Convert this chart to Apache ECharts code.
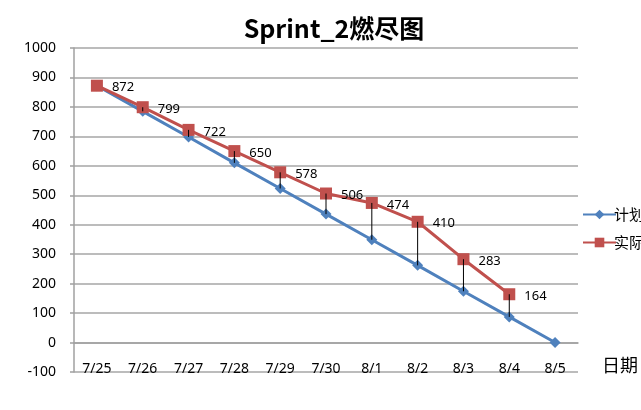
<!DOCTYPE html>
<html>
<head>
<meta charset="utf-8">
<script src="https://cdn.jsdelivr.net/npm/echarts@6/dist/echarts.min.js"></script>
<style>
html,body{margin:0;padding:0;background:#fff;}
#main{width:641px;height:410px;}
</style>
</head>
<body>
<div id="main"></div>
<script>
const categories = ['7/25','7/26','7/27','7/28','7/29','7/30','8/1','8/2','8/3','8/4','8/5'];
const planValues = [872, 785, 698, 610, 523, 436, 349, 262, 174, 87, 0];
const actualValues = [872, 799, 722, 650, 578, 506, 474, 410, 283, 164];
const yTicks = { min: -100, max: 1000, interval: 100 };

const dropData = [];
for (let i = 0; i < actualValues.length; i++) {
  dropData.push([i, planValues[i], actualValues[i]]);
}

const chart = echarts.init(document.getElementById('main'));
const font = 'Noto Sans';
chart.setOption({
  animation: false,
  backgroundColor: '#fff',
  textStyle: { fontFamily: font },
  title: {
    text: 'Sprint_2燃尽图',
    left: 329, top: 11, textAlign: 'center',
    textStyle: { fontFamily: 'Noto Sans CJK SC', fontWeight: 'bold', fontSize: 25, color: '#000' }
  },
  grid: { left: 74, right: 63, top: 48, bottom: 38 },
  legend: {
    orient: 'vertical', left: 577, top: 202, itemGap: 13,
    itemWidth: 33, itemHeight: 12,
    textStyle: { fontFamily: 'Noto Sans CJK SC', fontSize: 15, color: '#000', padding: [0,0,0,-7] },
    data: ['计划', '实际']
  },
  xAxis: {
    type: 'category', data: categories, boundaryGap: true,
    name: '日期', nameLocation: 'end', nameGap: 24,
    nameTextStyle: { fontFamily: 'Noto Sans CJK SC', fontSize: 18, color: '#000', verticalAlign: 'top', lineHeight: 46 },
    axisLine: { lineStyle: { color: '#a0a0a0', width: 1.5 } },
    axisTick: { show: false },
    axisLabel: { inside: false, margin: -10, verticalAlign: 'top', color: '#000', fontFamily: font, fontSize: 14 },
    splitLine: { show: false }
  },
  yAxis: {
    type: 'value', min: yTicks.min, max: yTicks.max, interval: yTicks.interval,
    axisLine: { show: true, lineStyle: { color: '#a0a0a0', width: 1.5 } },
    axisTick: { show: true, length: 4, lineStyle: { color: '#a0a0a0', width: 1.5 } },
    axisLabel: { color: '#000', fontFamily: font, fontSize: 14, margin: 18, formatter: function (v) { return String(v); } },
    splitLine: { lineStyle: { color: '#a6a6a6', width: 1.5 } }
  },
  series: [
    {
      name: '计划', type: 'line', data: planValues,
      symbol: 'diamond', symbolSize: 11,
      itemStyle: { color: '#4F81BD' },
      lineStyle: { color: '#4F81BD', width: 3 },
      z: 3
    },
    {
      name: '实际', type: 'line', data: actualValues,
      symbol: 'rect', symbolSize: 12,
      itemStyle: { color: '#C0504D' },
      lineStyle: { color: '#C0504D', width: 3 },
      label: { show: true, position: 'right', distance: 9, color: '#000', fontFamily: font, fontSize: 13, offset: [0, 2] },
      z: 4
    },
    {
      name: 'drop', type: 'custom', data: dropData, z: 5, silent: true,
      renderItem: function (params, api) {
        const a = api.coord([api.value(0), api.value(1)]);
        const b = api.coord([api.value(0), api.value(2)]);
        return { type: 'line', shape: { x1: a[0], y1: a[1], x2: b[0], y2: b[1] }, style: { stroke: '#000', lineWidth: 1 } };
      }
    }
  ]
});
</script>
</body>
</html>
